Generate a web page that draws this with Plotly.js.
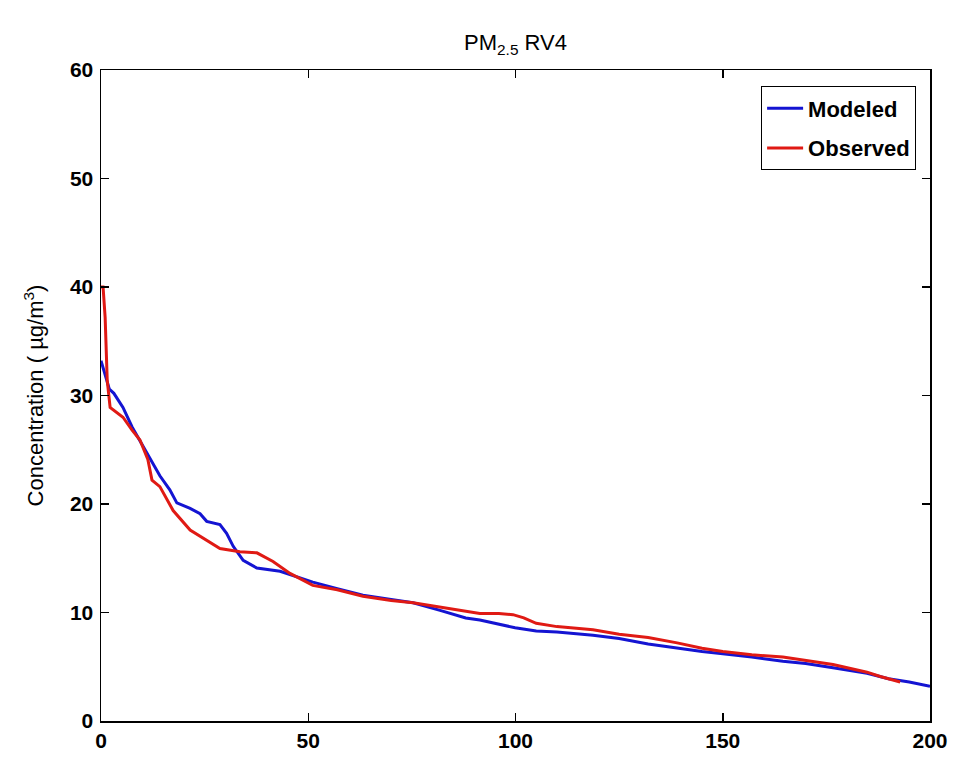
<!DOCTYPE html>
<html>
<head>
<meta charset="utf-8">
<script src="https://cdn.plot.ly/plotly-3.0.1.min.js"></script>
<style>html,body{margin:0;padding:0;background:#fff;}#chart{width:960px;height:760px;}</style>
</head>
<body>
<div id="chart"></div>
<script>
// Modeled series (rank, concentration)
const modeledX = [0, 1, 2, 3.1, 5.3, 7.5, 10.6, 13, 14.2, 16.6, 18.3, 21.5, 23.9, 25.5, 28.7, 30.3, 31.9, 34.3, 37.6, 43.2, 47.3, 51.1, 57, 63.2, 70, 75.3, 81.8, 88, 91.4, 95, 99.9, 105, 110, 118.7, 125, 132, 139, 145, 150, 157, 164.5, 170, 176.6, 184.8, 190, 195, 200];
const modeledY = [33.2, 32, 30.6, 30.2, 28.9, 27.1, 25, 23.4, 22.6, 21.3, 20.1, 19.6, 19.1, 18.4, 18.1, 17.3, 16.1, 14.8, 14.1, 13.8, 13.3, 12.8, 12.2, 11.6, 11.2, 10.9, 10.2, 9.5, 9.3, 9.0, 8.6, 8.3, 8.2, 7.9, 7.6, 7.1, 6.7, 6.4, 6.2, 5.9, 5.5, 5.3, 4.9, 4.4, 3.9, 3.6, 3.2];
// Observed series (rank, concentration)
const observedX = [0, 0.5, 1, 1.5, 2.2, 5.3, 7.5, 9.4, 11.3, 12.3, 14.2, 17.4, 21.5, 25, 28.7, 33.5, 37.6, 41.5, 45.6, 51.1, 57, 63.2, 70, 75.3, 81.8, 86, 91.4, 96, 99.4, 102, 105, 110, 118.7, 125, 132, 139, 145, 150, 157, 164.5, 170, 176.6, 184.8, 188, 192.8];
const observedY = [40, 40, 37.2, 31.4, 28.9, 28, 26.8, 25.9, 24.1, 22.2, 21.6, 19.4, 17.6, 16.8, 15.9, 15.6, 15.5, 14.7, 13.6, 12.5, 12.1, 11.5, 11.1, 10.9, 10.5, 10.2, 9.9, 9.9, 9.8, 9.5, 9.0, 8.7, 8.4, 8.0, 7.7, 7.2, 6.7, 6.4, 6.1, 5.9, 5.6, 5.2, 4.5, 4.1, 3.6];
const seriesNames = ["Modeled", "Observed"];
const xTicks = [0, 50, 100, 150, 200];
const yTicks = [0, 10, 20, 30, 40, 50, 60];

const traces = [
  {x: modeledX, y: modeledY, name: seriesNames[0], type: 'scatter', mode: 'lines', legendgroup: 'm',
   line: {color: '#1414d2', width: 3}},
  {x: observedX, y: observedY, name: seriesNames[1], type: 'scatter', mode: 'lines', legendgroup: 'o',
   line: {color: '#e01a14', width: 3}}
];

const FONT = 'Liberation Sans, Arial, sans-serif';
const axisCommon = {
  showline: true, linecolor: '#000', linewidth: 1.5, mirror: 'ticks',
  ticks: 'inside', ticklen: 8, tickcolor: '#000', tickwidth: 1.5,
  showgrid: false, zeroline: false,
  tickfont: {family: FONT, size: 21, color: '#000', weight: 'bold'},
  automargin: false
};

const layout = {
  width: 960, height: 760,
  margin: {l: 101, r: 30, t: 70, b: 39},
  paper_bgcolor: '#fff', plot_bgcolor: '#fff',
  title: {text: 'PM<sub>2.5</sub> RV4', x: 0.537, xanchor: 'center', y: 0.944, yref: 'container', yanchor: 'middle',
          font: {family: FONT, size: 22, color: '#000'}},
  xaxis: Object.assign({}, axisCommon, {range: [0, 200], tickvals: xTicks, ticktext: xTicks.map(String)}),
  yaxis: Object.assign({}, axisCommon, {range: [0, 60], tickvals: yTicks, ticktext: yTicks.map(String),
    ticklabelstandoff: 2,
    title: {text: 'Concentration ( µg/m<sup>3</sup>)', standoff: 20,
            font: {family: FONT, size: 22, color: '#000'}}}),
  showlegend: true,
  legend: {x: 0.983, xanchor: 'right', y: 0.975, yanchor: 'top',
           bgcolor: '#fff', bordercolor: '#000', borderwidth: 1.2,
           font: {family: FONT, size: 22, color: '#000', weight: 'bold'},
           traceorder: 'grouped', tracegroupgap: 8, itemwidth: 36}
};

Plotly.newPlot('chart', traces, layout, {displayModeBar: false, staticPlot: true});
</script>
</body>
</html>
